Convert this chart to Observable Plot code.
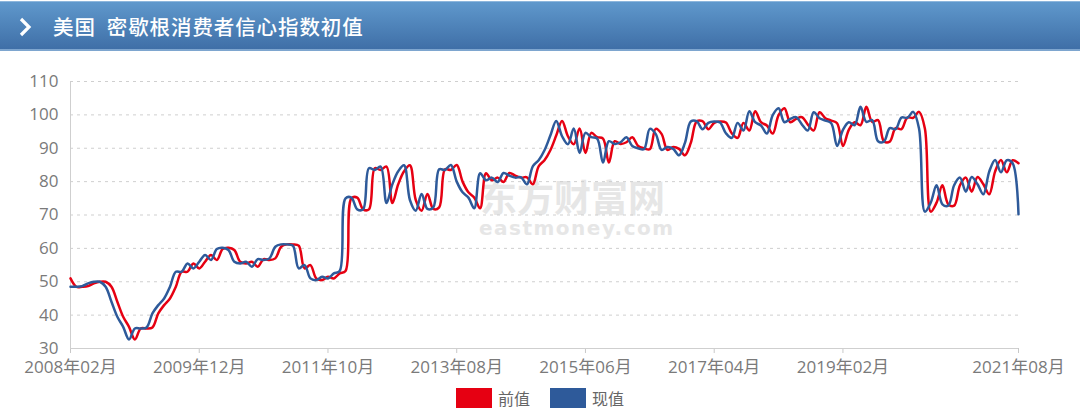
<!DOCTYPE html>
<html>
<head>
<meta charset="utf-8">
<script src="https://cdn.jsdelivr.net/npm/d3@7"></script>
<script src="https://cdn.jsdelivr.net/npm/@observablehq/plot@0.6"></script>
<style>
  html, body { margin: 0; padding: 0; background: #fff; }
  body { width: 1080px; height: 419px; overflow: hidden; font-family: "Noto Sans CJK SC", "Open Sans", sans-serif; }
  #header {
    position: relative; height: 50px; margin-top: 1px;
    background: linear-gradient(#5f98cc, #3f6fa7);
    border-top: 1px solid #8db6dc; border-bottom: 2px solid #7ea6cf;
    box-sizing: border-box;
  }
  #header svg { position: absolute; left: 18px; top: 15px; }
  #header .title { position: absolute; left: 53px; top: 9px; color: #fff; font-size: 20.5px; font-weight: 500; letter-spacing: 0.9px; white-space: pre; }
  #chart { position: relative; height: 328px; }
  #chart > svg { position: relative; z-index: 1; }
  .wm { position: absolute; z-index: 0; color: #e6e6e6; font-weight: 700; white-space: nowrap; line-height: 1; }
  #legend { display: flex; justify-content: center; align-items: center; margin-top: 7px; font-size: 16px; color: #666; }
  #legend .sw { width: 36px; height: 20px; margin-right: 6px; }
  #legend .item { display: flex; align-items: center; margin: 0 10px; }
  g[aria-label="x-axis"] line, g[aria-label="x-axis tick"] path { stroke: #c8c8c8; }
</style>
</head>
<body>
<div id="header">
  <svg width="14" height="20" viewBox="0 0 14 20"><polyline points="3,2 11,10 3,18" fill="none" stroke="#fff" stroke-width="3.2" stroke-linejoin="miter"/></svg>
  <div class="title">美国  密歇根消费者信心指数初值</div>
</div>
<div id="chart">
  <div class="wm" style="left:480px; top:127px; font-size:37px; letter-spacing:0px;">东方财富网</div>
  <div class="wm" style="left:479px; top:167px; font-size:20px; letter-spacing:1.5px; font-family:'DejaVu Sans', sans-serif;">eastmoney.com</div>
</div>
<div id="legend">
  <div class="item"><div class="sw" style="background:#e60012"></div><span>前值</span></div>
  <div class="item"><div class="sw" style="background:#2e5a9a"></div><span>现值</span></div>
</div>
<script>
// categories: monthly, 2008-02 .. 2021-08
const startYear = 2008, startMonth = 2, monthCount = 163;
const months = [];
for (let k = 0; k < monthCount; k++) {
  const t = startMonth - 1 + k;
  const y = startYear + Math.floor(t / 12), m = (t % 12) + 1;
  months.push(`${y}年${String(m).padStart(2, "0")}月`);
}

// 现值 (current value)
const currentValues = [
  48.5, 48.5, 48.7, 49.5, 50.0, 50.0, 48.5, 44.0, 39.5, 36.5, 32.7,          // 2008-02..2008-12
  36.0, 36.0, 36.3, 40.5, 43.0, 45.0, 48.5, 53.0, 53.0, 55.5, 54.0, 56.0,    // 2009
  58.0, 56.5, 59.8, 60.2, 59.5, 56.0, 55.5, 56.0, 54.5, 56.8, 56.5, 57.0,    // 2010
  60.5, 61.2, 61.2, 60.8, 54.0, 55.0, 51.0, 50.5, 51.5, 51.0, 52.5, 53.2,    // 2011
  75.0, 75.2, 71.7, 71.7, 84.0, 83.5, 84.5, 73.6, 79.2, 83.1, 84.9, 74.5,    // 2012
  71.3, 76.3, 71.8, 72.3, 83.7, 83.5, 85.0, 80.0, 76.8, 75.2, 72.0, 82.5,    // 2013
  80.4, 81.2, 79.9, 82.6, 81.8, 81.2, 81.3, 79.2, 84.6, 86.4, 89.4, 93.8,    // 2014
  98.2, 93.6, 91.2, 95.9, 88.6, 94.6, 93.3, 92.9, 85.7, 92.1, 91.3, 91.8,    // 2015
  93.3, 90.7, 90.0, 89.7, 95.8, 94.3, 89.5, 90.4, 89.8, 87.9, 91.6, 98.0,    // 2016
  98.1, 95.7, 97.6, 98.0, 97.7, 94.5, 93.1, 97.6, 95.3, 101.1, 97.8, 96.8,   // 2017
  94.4, 99.9, 102.0, 97.8, 98.8, 99.3, 97.1, 95.3, 100.8, 99.0, 98.3, 97.5,  // 2018
  90.7, 95.5, 97.8, 96.9, 102.4, 97.9, 98.4, 92.1, 92.0, 96.0, 95.7, 99.2,   // 2019
  99.1, 100.9, 95.9, 71.0, 73.7, 78.9, 73.2, 72.8, 78.9, 81.2, 77.0, 81.4,   // 2020
  79.2, 76.2, 83.0, 86.5, 82.8, 86.4, 85.5, 70.2                             // 2021-01..2021-08
];

// 前值 (previous value)
const previousValues = [
  51.0, 48.5, 48.5, 48.7, 49.5, 50.0, 50.0, 48.5, 44.0, 39.5, 36.5,          // 2008-02..2008-12
  32.7, 36.0, 36.0, 36.3, 40.5, 43.0, 45.0, 48.5, 53.0, 53.0, 55.5, 54.0,    // 2009
  56.0, 58.0, 56.5, 59.8, 60.2, 59.5, 56.0, 55.5, 56.0, 54.5, 56.8, 56.5,    // 2010
  57.0, 60.5, 61.2, 61.2, 60.8, 54.0, 55.0, 51.0, 50.5, 51.5, 51.0, 52.5,    // 2011
  53.2, 75.0, 75.2, 71.7, 71.7, 84.0, 83.5, 84.5, 73.6, 79.2, 83.1, 84.9,    // 2012
  74.5, 71.3, 76.3, 71.8, 72.3, 83.7, 83.5, 85.0, 80.0, 76.8, 75.2, 72.0,    // 2013
  82.5, 80.4, 81.2, 79.9, 82.6, 81.8, 81.2, 81.3, 79.2, 84.6, 86.4, 89.4,    // 2014
  93.8, 98.2, 93.6, 91.2, 95.9, 88.6, 94.6, 93.3, 92.9, 85.7, 92.1, 91.3,    // 2015
  91.8, 93.3, 90.7, 90.0, 89.7, 95.8, 94.3, 89.5, 90.4, 89.8, 87.9, 91.6,    // 2016
  98.0, 98.1, 95.7, 97.6, 98.0, 97.7, 94.5, 93.1, 97.6, 95.3, 101.1, 97.8,   // 2017
  96.8, 94.4, 99.9, 102.0, 97.8, 98.8, 99.3, 97.1, 95.3, 100.8, 99.0, 98.3,  // 2018
  97.5, 90.7, 95.5, 97.8, 96.9, 102.4, 97.9, 98.4, 92.1, 92.0, 96.0, 95.7,   // 2019
  99.2, 99.1, 100.9, 95.9, 71.0, 73.7, 78.9, 73.2, 72.8, 78.9, 81.2, 77.0,   // 2020
  81.4, 79.2, 76.2, 83.0, 86.5, 82.8, 86.4, 85.5                             // 2021-01..2021-08
];

const tickLabels = ["2008年02月", "2009年12月", "2011年10月", "2013年08月", "2015年06月", "2017年04月", "2019年02月", "2021年08月"];
const yTicks = [30, 40, 50, 60, 70, 80, 90, 100, 110];
const seriesNames = ["前值", "现值"];
const seriesColors = ["#e60012", "#2e5a9a"];

const prevData = months.map((m, i) => ({month: m, value: previousValues[i]}));
const currData = months.map((m, i) => ({month: m, value: currentValues[i]}));

const chart = Plot.plot({
  width: 1080,
  height: 328,
  marginLeft: 70,
  marginRight: 62,
  marginTop: 30,
  marginBottom: 31,
  style: {
    fontSize: "17px",
    fontFamily: "'Open Sans', 'Noto Sans CJK SC', sans-serif",
    color: "#7a7a7a",
    background: "transparent",
    overflow: "visible"
  },
  x: {type: "point", domain: months, padding: 0, ticks: tickLabels, tickSize: 5, tickPadding: 7, label: null},
  y: {domain: [30, 110], ticks: yTicks, tickSize: 0, tickPadding: 12, label: null},
  marks: [
    Plot.ruleY(yTicks.slice(1), {stroke: "#cfcfcf", strokeDasharray: "3,4", strokeWidth: 1}),
    Plot.ruleY([30], {stroke: "#cfcfcf"}),
    Plot.ruleX([months[0]], {stroke: "#cfcfcf"}),
    Plot.line(prevData, {x: "month", y: "value", stroke: seriesColors[0], strokeWidth: 2.5, curve: "catmull-rom"}),
    Plot.line(currData, {x: "month", y: "value", stroke: seriesColors[1], strokeWidth: 2.5, curve: "catmull-rom"})
  ]
});
document.getElementById("chart").appendChild(chart);
</script>
</body>
</html>
